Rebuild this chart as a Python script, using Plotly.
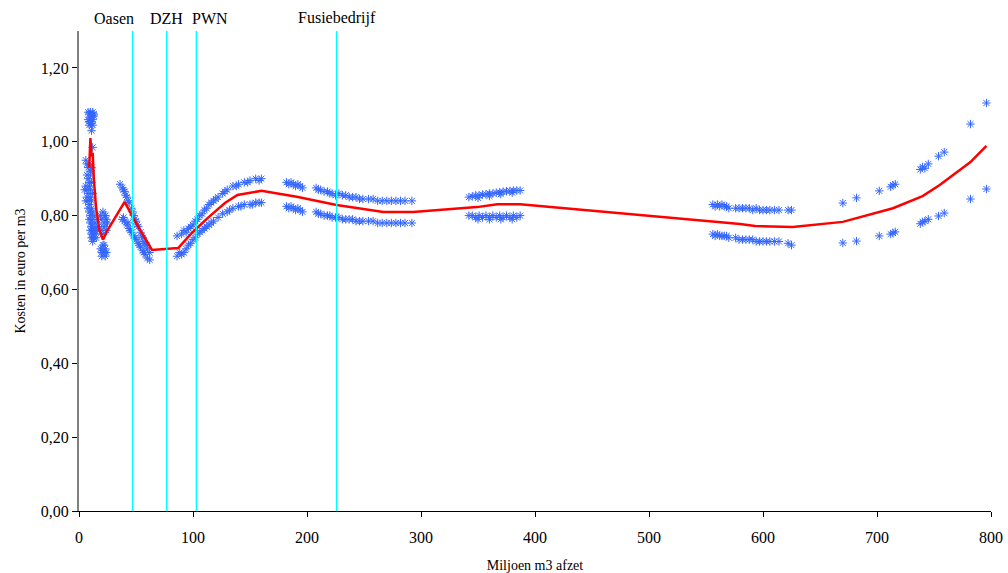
import plotly.graph_objects as go

# ---- data ----
upper_x = [8, 9, 10, 11, 12, 13, 8, 9, 10, 11, 12, 13, 9, 10, 11, 12, 11, 12,
           6, 7, 8, 9, 10, 7, 8, 9, 10, 11, 6, 7, 8, 9, 10, 11, 7, 8, 9, 10, 11, 12,
           8, 9, 10, 11, 12, 9, 10, 11, 12, 13, 10, 11, 12, 13, 14, 11, 12, 13, 14, 15,
           12, 13, 14, 15, 16, 5, 6, 16, 17,
           19, 20, 21, 22, 23, 24, 25, 20, 22, 24, 21, 23,
           36, 38, 40, 42, 44, 46, 48, 50, 52, 54, 56, 58, 60, 62, 39, 43, 47, 51, 55, 59, 41, 49, 57,
           86, 90, 94, 98, 102, 106, 110, 114, 118, 122, 126, 130, 135, 140, 145, 150, 155, 160,
           92, 96, 100, 104, 108, 112, 116, 120, 128, 138, 148, 158,
           182, 184, 186, 188, 190, 192, 194, 196, 208, 210, 212, 215, 218, 220, 222, 225,
           228, 231, 234, 237, 240, 243, 246, 249, 254, 258, 262, 266, 270, 274, 278, 282, 286, 292,
           342, 345, 348, 351, 354, 357, 360, 363, 366, 369, 372, 375, 378, 381, 384, 387, 350, 360, 370, 380,
           556, 558, 560, 562, 564, 566, 568, 570, 576, 579, 582, 585, 588, 591, 594, 597, 600, 603,
           606, 610, 614, 622, 625,
           670, 682, 702, 712, 714, 716, 738, 740, 742, 745, 754, 759, 782, 796]
upper_y = [1.08, 1.075, 1.08, 1.07, 1.08, 1.075, 1.06, 1.055, 1.065, 1.05, 1.06, 1.07, 1.045, 1.05, 1.055, 1.045, 1.03, 0.985,
           0.95, 0.94, 0.93, 0.94, 0.92, 0.91, 0.90, 0.89, 0.91, 0.93, 0.88, 0.87, 0.86, 0.88, 0.87, 0.89, 0.85, 0.84, 0.83, 0.85, 0.84, 0.86,
           0.82, 0.81, 0.80, 0.82, 0.81, 0.79, 0.78, 0.77, 0.79, 0.80, 0.76, 0.75, 0.77, 0.76, 0.78, 0.74, 0.75, 0.74, 0.76, 0.77,
           0.73, 0.74, 0.75, 0.74, 0.76, 0.87, 0.84, 0.79, 0.77,
           0.80, 0.79, 0.81, 0.78, 0.80, 0.79, 0.78, 0.76, 0.77, 0.76, 0.75, 0.80,
           0.885, 0.875, 0.865, 0.85, 0.835, 0.82, 0.80, 0.785, 0.77, 0.755, 0.74, 0.725, 0.71, 0.70, 0.87, 0.84, 0.81, 0.775, 0.745, 0.72, 0.855, 0.79, 0.73,
           0.745, 0.75, 0.755, 0.77, 0.785, 0.80, 0.815, 0.83, 0.84, 0.85, 0.86, 0.87, 0.88, 0.885, 0.89, 0.895, 0.90, 0.90,
           0.76, 0.765, 0.775, 0.79, 0.805, 0.82, 0.835, 0.845, 0.865, 0.88, 0.89, 0.895,
           0.89, 0.885, 0.89, 0.885, 0.88, 0.885, 0.88, 0.875, 0.875, 0.87, 0.87, 0.865, 0.865, 0.86, 0.86, 0.855,
           0.86, 0.855, 0.855, 0.85, 0.85, 0.85, 0.845, 0.845, 0.845, 0.845, 0.84, 0.84, 0.84, 0.84, 0.84, 0.84, 0.84, 0.84,
           0.85, 0.852, 0.855, 0.855, 0.857, 0.858, 0.86, 0.86, 0.862, 0.863, 0.865, 0.866, 0.867, 0.868, 0.868, 0.868, 0.848, 0.853, 0.858, 0.862,
           0.83, 0.825, 0.83, 0.825, 0.83, 0.825, 0.825, 0.82, 0.82, 0.82, 0.82, 0.82, 0.82, 0.815, 0.82, 0.815, 0.815, 0.815,
           0.815, 0.815, 0.815, 0.815, 0.815,
           0.834, 0.848, 0.867, 0.878, 0.883, 0.885, 0.925, 0.932, 0.928, 0.94, 0.961, 0.972, 1.048, 1.105]

lower_x = [19, 20, 21, 22, 23, 24, 20, 22, 23, 21,
           38, 40, 42, 44, 46, 48, 50, 52, 54, 56, 58, 60, 62, 45, 49, 53, 57, 39, 43,
           86, 90, 94, 98, 102, 106, 110, 114, 118, 122, 126, 130, 135, 140, 145, 150, 155, 160,
           88, 92, 96, 100, 104, 108, 112, 116, 132, 142, 152, 158,
           182, 184, 186, 188, 190, 192, 194, 196, 208, 210, 212, 215, 218, 220, 222, 225,
           228, 231, 234, 237, 240, 243, 246, 249, 254, 258, 262, 266, 270, 274, 278, 282, 286, 292,
           342, 345, 348, 351, 354, 357, 360, 363, 366, 369, 372, 375, 378, 381, 384, 387, 350, 360, 370, 380,
           556, 558, 560, 562, 564, 566, 568, 570, 576, 579, 582, 585, 588, 591, 594, 597, 600, 603,
           606, 610, 614, 622, 625,
           670, 682, 702, 712, 714, 716, 738, 740, 742, 745, 754, 759, 782, 796]
lower_y = [0.71, 0.70, 0.72, 0.70, 0.71, 0.70, 0.69, 0.72, 0.69, 0.705,
           0.79, 0.785, 0.775, 0.765, 0.755, 0.745, 0.735, 0.725, 0.715, 0.705, 0.695, 0.685, 0.68, 0.76, 0.74, 0.72, 0.70, 0.795, 0.78,
           0.69, 0.695, 0.71, 0.725, 0.74, 0.755, 0.765, 0.775, 0.785, 0.795, 0.805, 0.81, 0.82, 0.825, 0.83, 0.83, 0.835, 0.835,
           0.70, 0.70, 0.72, 0.735, 0.75, 0.76, 0.77, 0.78, 0.815, 0.825, 0.83, 0.835,
           0.825, 0.82, 0.825, 0.82, 0.815, 0.82, 0.815, 0.81, 0.81, 0.805, 0.805, 0.80, 0.80, 0.80, 0.795, 0.795,
           0.795, 0.79, 0.79, 0.79, 0.79, 0.785, 0.785, 0.785, 0.785, 0.785, 0.78, 0.78, 0.78, 0.78, 0.78, 0.78, 0.78, 0.78,
           0.80, 0.80, 0.795, 0.80, 0.795, 0.80, 0.795, 0.80, 0.795, 0.80, 0.795, 0.80, 0.795, 0.80, 0.795, 0.80, 0.79, 0.79, 0.79, 0.79,
           0.75, 0.745, 0.75, 0.745, 0.745, 0.745, 0.745, 0.74, 0.74, 0.735, 0.735, 0.735, 0.735, 0.735, 0.73, 0.73, 0.73, 0.73,
           0.73, 0.73, 0.73, 0.725, 0.72,
           0.726, 0.731, 0.745, 0.75, 0.753, 0.756, 0.778, 0.783, 0.785, 0.79, 0.799, 0.807, 0.845, 0.872]

fit_x = [9, 10, 11, 12, 13, 15, 18, 21, 25, 40, 50, 60, 64, 87, 99, 113, 128, 139, 154, 160,
         191, 226, 267, 293, 349, 367, 387, 562, 580, 593, 615, 626, 670, 682, 714, 740, 755, 782, 796]
fit_y = [0.93, 1.01, 0.96, 0.97, 0.90, 0.82, 0.76, 0.735, 0.76, 0.837, 0.78, 0.726, 0.707, 0.712, 0.753,
         0.794, 0.834, 0.856, 0.864, 0.867, 0.851, 0.829, 0.81, 0.81, 0.823, 0.831, 0.831, 0.783, 0.777,
         0.772, 0.769, 0.769, 0.783, 0.793, 0.82, 0.853, 0.883, 0.945, 0.989]

company_x = [47, 77, 103, 226]
company_labels = ["Oasen", "DZH", "PWN", "Fusiebedrijf"]
label_x = [31, 77, 115, 226]

FONT = "Liberation Serif, Times New Roman, serif"
BLUE = "rgb(51,102,255)"

fig = go.Figure()
marker = dict(symbol="asterisk-open", size=7, color=BLUE, line=dict(color=BLUE, width=1))
fig.add_trace(go.Scatter(x=upper_x, y=upper_y, mode="markers", marker=marker, showlegend=False))
fig.add_trace(go.Scatter(x=lower_x, y=lower_y, mode="markers", marker=marker, showlegend=False))
fig.add_trace(go.Scatter(x=fit_x, y=fit_y, mode="lines", line=dict(color="red", width=2.5), showlegend=False))

for cx in company_x:
    fig.add_shape(type="line", x0=cx, x1=cx, y0=0, y1=1, xref="x", yref="paper",
                  line=dict(color="#00FFFF", width=1.5))
for lx, txt in zip(label_x, company_labels):
    fig.add_annotation(x=lx, y=1, xref="x", yref="paper", yanchor="bottom", text=txt,
                       showarrow=False, yshift=2, font=dict(family=FONT, size=16, color="black"))

fig.update_layout(
    width=1008, height=573,
    margin=dict(l=79, r=17, t=31, b=62),
    paper_bgcolor="white", plot_bgcolor="white",
    separators=",.",
    font=dict(family=FONT, size=14, color="black"),
    xaxis=dict(range=[0, 800], tickvals=[0, 100, 200, 300, 400, 500, 600, 700, 800],
               showgrid=False, zeroline=False, showline=True, linecolor="black", linewidth=1,
               ticks="outside", ticklen=5, tickcolor="black", ticklabelstandoff=7,
               automargin=False, ticklabeloverflow="allow",
               title=dict(text="Miljoen m3 afzet", font=dict(family=FONT, size=14), standoff=16),
               tickfont=dict(family=FONT, size=16)),
    yaxis=dict(range=[0, 1.3], tickvals=[0, 0.2, 0.4, 0.6, 0.8, 1.0, 1.2], tickformat=".2f",
               showgrid=False, zeroline=False, showline=True, linecolor="#808080", linewidth=2,
               ticks="outside", ticklen=5, tickcolor="black", automargin=False,
               title=dict(text="Kosten in euro per m3", font=dict(family=FONT, size=14), standoff=12),
               tickfont=dict(family=FONT, size=16)),
)

fig.write_html("out.html")
